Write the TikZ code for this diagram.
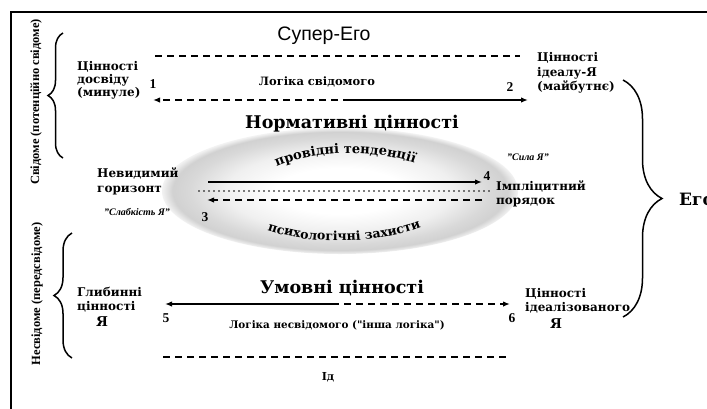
\documentclass[tikz,border=0pt]{standalone}
\usepackage{fontspec}
\setmainfont{Liberation Serif}
\newfontfamily\sansf{Liberation Sans}
\newfontfamily\dvs{DejaVu Serif}
\usetikzlibrary{arrows.meta,decorations.pathreplacing,decorations.text}
\pgfdeclareradialshading{ellshade}{\pgfpoint{0bp}{0bp}}{color(0bp)=(white); color(9bp)=(white); color(16bp)=(black!6); color(21bp)=(black!15); color(23.5bp)=(black!18); color(25bp)=(black!5); color(50bp)=(black!5)}
\begin{document}
\begin{tikzpicture}[x=1pt,y=-1pt,
  lbl/.style={font=\dvs\bfseries\fontsize{12}{13}\selectfont, inner sep=0pt},
  num/.style={font=\bfseries\fontsize{13.5}{13.5}\selectfont, inner sep=0pt},
  big/.style={font=\dvs\bfseries\fontsize{17.5}{17.5}\selectfont, inner sep=0pt},
  logic/.style={font=\dvs\bfseries\fontsize{10.4}{10.4}\selectfont, inner sep=0pt},
  quote/.style={font=\bfseries\itshape\fontsize{10}{10}\selectfont, inner sep=0pt},
  side/.style={font=\bfseries\fontsize{12.5}{12.5}\selectfont, inner sep=0pt, rotate=90},
  ya/.style={font=\dvs\bfseries\fontsize{13.5}{13.5}\selectfont, inner sep=0pt},
  dsh/.style={line width=1.5pt, dash pattern=on 7pt off 5pt},
  sol/.style={line width=1.4pt},
  dot/.style={line width=1.7pt, line cap=round, dash pattern=on 0pt off 5pt},
  tip/.style={-{Latex[length=7pt,width=5.5pt]}},
  brc/.style={line width=1.5pt, decorate}
]
\useasboundingbox (0,0) rectangle (707,408);
\fill[white] (0,0) rectangle (707,408);
% frame
\draw[line width=1.1pt] (11,420) -- (11,12) -- (720,12);

% ellipse
\shade[shading=ellshade] (340,191) ellipse [x radius=178, y radius=63];

% top labels
\node[font=\sansf\fontsize{19.5}{19.5}\selectfont, inner sep=0pt] (se) at (324,36) {Супер-Его};
\coordinate (sl1) at (155,56); \coordinate (sl2) at (520,56);
\draw[dsh] (sl1) -- (sl2);

\node[lbl, anchor=west, align=left] (past) at (77,80) {Цінності\\досвіду\\(минуле)};
\node[lbl, anchor=west, align=left, font=\dvs\bfseries\fontsize{12}{14.5}\selectfont] (fut) at (537,73) {Цінності\\ідеалу-Я\\(майбутнє)};
\node[num] (n1) at (153,84) {1};
\node[num] (n2) at (510,87) {2};
\node[logic, font=\dvs\bfseries\fontsize{11.5}{11.5}\selectfont] (lc) at (317,82) {Логіка свідомого};
\coordinate (a1) at (153,100); \coordinate (am) at (350,100); \coordinate (a2) at (528,100);
\draw[dsh,tip] (am) -- (a1);
\draw[sol,tip] (am) -- (a2);

\node[big] (norm) at (352,124) {Нормативні цінності};

% left braces and side labels
\draw[brc, decoration={brace, amplitude=15pt}] (63,158) -- (63,33);
\node[side] (cons) at (36,102) {Свідоме (потенційно свідоме)};
\draw[brc, decoration={brace, amplitude=18pt}] (72,358) -- (72,233);
\node[side] (uncons) at (37,294) {Несвідоме (передсвідоме)};

% right brace
\draw[brc, decoration={brace, amplitude=39pt}] (623,80) -- (623,317);
\node[font=\dvs\bfseries\fontsize{17}{17}\selectfont, anchor=west, inner sep=0pt] (ego) at (679,199) {Его};

% middle
\node[lbl, anchor=west, align=left, font=\dvs\bfseries\fontsize{12}{15}\selectfont] (hor) at (97,181) {Невидимий\\горизонт};
\node[quote] (weak) at (137,212) {"Слабкість Я"};
\node[quote] (strong) at (528,157) {"Сила Я"};
\node[num] (n3) at (205,217) {3};
\node[num] (n4) at (487,176) {4};
\node[lbl, anchor=west, align=left, font=\dvs\bfseries\fontsize{12}{13.5}\selectfont] (impl) at (496,194) {Імпліцитний\\порядок};

\coordinate (b1) at (208,182); \coordinate (b2) at (482,182);
\draw[sol,tip] (b1) -- (b2);
\coordinate (c1) at (199,191); \coordinate (c2) at (493,191);
\draw[dot] (c1) -- (c2);
\coordinate (d1) at (482,200); \coordinate (d2) at (207,200);
\draw[dsh,tip] (d1) -- (d2);

\path[decorate, decoration={text along path, text align=center,
  text={|\dvs\bfseries\fontsize{13}{13}\selectfont|провідні тенденції}}]
  (258,178) .. controls (298,146) and (394,146) .. (434,173);
\path[decorate, decoration={text along path, text align=center,
  text={|\dvs\bfseries\fontsize{12.5}{12.5}\selectfont|психологічні захисти}}]
  (252,224) .. controls (298,247) and (387,247) .. (436,220);

% bottom
\node[big] (cond) at (342,288) {Умовні цінності};
\node[lbl, anchor=west, align=left, font=\dvs\bfseries\fontsize{12}{14}\selectfont] (deep) at (77,300) {Глибинні\\цінності};
\node[ya] (ya1) at (102,322) {Я};
\node[lbl, anchor=west, align=left, font=\dvs\bfseries\fontsize{12}{14}\selectfont] (ideal) at (525,301) {Цінності\\ідеалізованого};
\node[ya] (ya2) at (556,324) {Я};
\node[num] (n5) at (166,318) {5};
\node[num] (n6) at (512,318) {6};
\coordinate (e1) at (165,304); \coordinate (em) at (332,304); \coordinate (e2) at (510,304);
\draw[sol,tip] (em) -- (e1);
\draw[dsh,tip] (em) -- (e2);
\node[logic] (lu) at (337,325) {Логіка несвідомого ("інша логіка")};
\coordinate (id1) at (163,357); \coordinate (id2) at (508,357);
\draw[dsh] (id1) -- (id2);
\node[font=\dvs\bfseries\fontsize{11}{11}\selectfont, inner sep=0pt] (id) at (328,377) {Ід};
\end{tikzpicture}
\end{document}
